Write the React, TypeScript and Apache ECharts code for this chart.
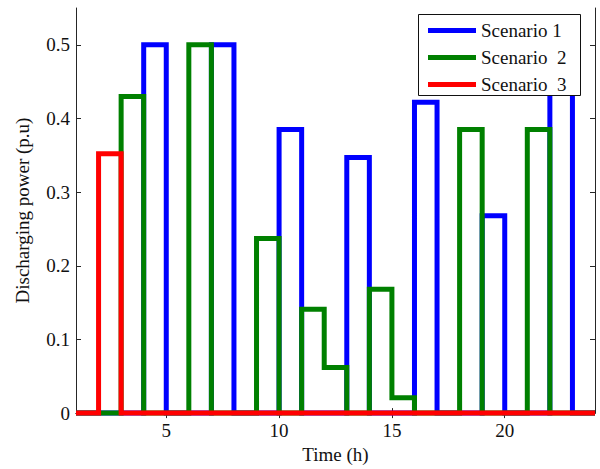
import React, { useEffect, useRef } from "react";
import * as echarts from "echarts";

const hours = [1, 2, 3, 4, 5, 6, 7, 8, 9, 10, 11, 12, 13, 14, 15, 16, 17, 18, 19, 20, 21, 22, 23, 24];
const scenario1 = [0, 0, 0, 0.5, 0, 0, 0.5, 0, 0, 0.385, 0, 0, 0.347, 0, 0, 0.422, 0, 0, 0.268, 0, 0, 0.46, 0, 0];
const scenario2 = [0, 0, 0.43, 0, 0, 0.5, 0, 0, 0.237, 0, 0.141, 0.062, 0, 0.168, 0.021, 0, 0, 0.385, 0, 0, 0.385, 0, 0, 0];
const scenario3 = [0, 0.352, 0, 0, 0, 0, 0, 0, 0, 0, 0, 0, 0, 0, 0, 0, 0, 0, 0, 0, 0, 0, 0, 0];
const seriesNames = ["Scenario 1", "Scenario  2", "Scenario  3"];
const seriesColors = ["#0000ff", "#008000", "#ff0000"];
const xTicks = [5, 10, 15, 20];
const yTicks = [0, 0.1, 0.2, 0.3, 0.4, 0.5];

const FONT = "Liberation Serif";
const AX = "#262626";

export default function App() {
  const ref = useRef<HTMLDivElement>(null);
  useEffect(() => {
    if (!ref.current) return;
    const chart = echarts.init(ref.current, null, { renderer: "svg" });
    const values = [scenario1, scenario2, scenario3];
    const baseX = {
      type: "value",
      min: 1,
      max: 24,
      splitLine: { show: false },
      axisLine: { show: true, lineStyle: { color: AX, width: 1 } },
      axisTick: { show: true, inside: true, length: 5, lineStyle: { color: AX }, customValues: xTicks },
    };
    const baseY = {
      type: "value",
      min: 0,
      max: 0.55,
      splitLine: { show: false },
      axisLine: { show: true, lineStyle: { color: AX, width: 1 } },
      axisTick: { show: true, inside: true, length: 5, lineStyle: { color: AX }, customValues: yTicks },
    };
    chart.setOption({
      animation: false,
      backgroundColor: "#ffffff",
      grid: { left: 76, right: 5, top: 8, bottom: 52, containLabel: false },
      graphic: [
        {
          type: "rect",
          z: 50,
          shape: { x: 418.5, y: 14.5, width: 162, height: 81 },
          style: { fill: "#ffffff", stroke: "#111", lineWidth: 1 },
        },
      ],
      xAxis: [
        {
          ...baseX,
          position: "bottom",
          name: "Time (h)",
          nameLocation: "middle",
          nameGap: 29,
          nameTextStyle: { fontFamily: FONT, fontSize: 19, color: "#111" },
          axisLabel: {
            show: true,
            margin: 8,
            fontFamily: FONT,
            fontSize: 19,
            color: "#111",
            customValues: xTicks,
          },
        },
        { ...baseX, position: "top", axisLabel: { show: false } },
      ],
      yAxis: [
        {
          ...baseY,
          position: "left",
          name: "Discharging power (p.u)",
          nameLocation: "middle",
          nameGap: 44,
          nameTextStyle: { fontFamily: FONT, fontSize: 19, color: "#111" },
          axisLabel: {
            show: true,
            margin: 6,
            fontFamily: FONT,
            fontSize: 19,
            color: "#111",
            customValues: yTicks,
          },
        },
        { ...baseY, position: "right", axisLabel: { show: false } },
      ],
      legend: {
        orient: "vertical",
        left: 418,
        top: 14,
        z: 60,
        padding: [7, 5, 6, 10],
        itemGap: 8,
        itemWidth: 48,
        itemHeight: 5,
        icon: "rect",
        textStyle: { fontFamily: FONT, fontSize: 19, color: "#111" },
        data: seriesNames,
      },
      series: values.map((vals, i) => ({
        type: "line",
        name: seriesNames[i],
        step: "end",
        data: hours.map((h, j) => [h, vals[j]]),
        showSymbol: false,
        symbol: "none",
        clip: false,
        color: seriesColors[i],
        lineStyle: { color: seriesColors[i], width: 5, join: "miter", cap: "butt" },
        z: 2 + i,
      })),
    });
    return () => chart.dispose();
  }, []);
  return <div ref={ref} style={{ width: 600, height: 469, position: "absolute", left: 0, top: 0 }} />;
}
